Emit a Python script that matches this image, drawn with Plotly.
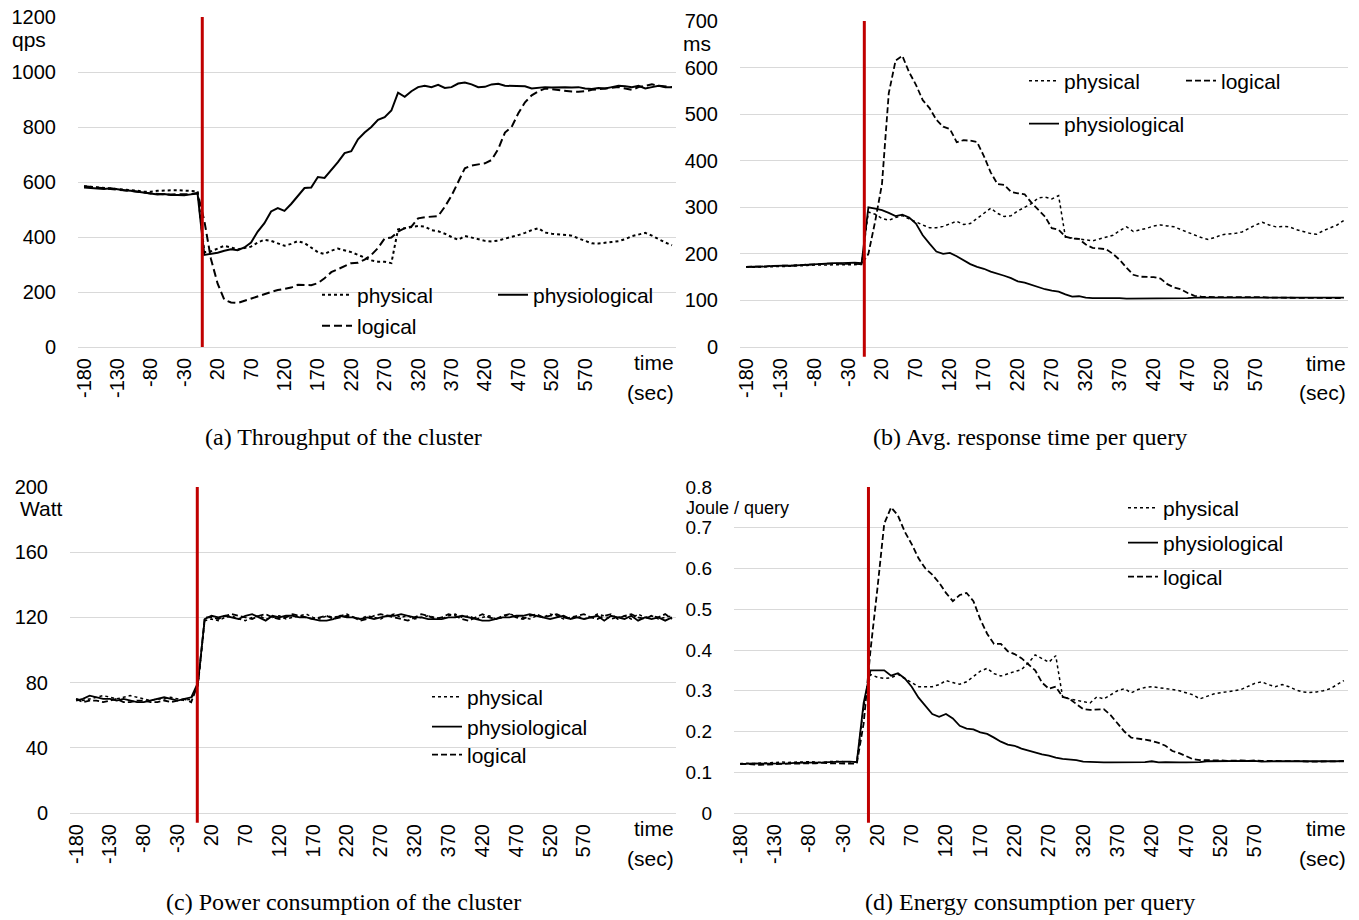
import plotly.graph_objects as go

W, H = 1359, 920
SANS = "Liberation Sans, Arial, sans-serif"
SERIF = "Liberation Serif, Times New Roman, serif"

# ---------------- data ----------------
time_sec = list(range(-180, 701, 10))
tick_vals = list(range(-180, 571, 50))
tick_text = [str(v) for v in tick_vals]

# (a) throughput, qps
thr_physical = [
    585, 583, 580, 578, 578, 575, 572, 570, 568, 565,
    565, 568, 570, 570, 570, 568, 567, 566, 345, 348,
    358, 368, 362, 355, 360, 365, 380, 390, 386, 378,
    368, 375, 385, 378, 362, 345, 338, 350, 358, 352,
    345, 335, 325, 315, 310, 310, 305, 428, 432, 436,
    440, 438, 425, 421, 412, 400, 390, 404, 398, 390,
    386, 384, 387, 394, 400, 407, 415, 425, 432, 416,
    412, 410, 408, 405, 395, 385, 377, 376, 380, 382,
    385, 392, 403, 410, 415, 405, 392, 380, 370]
thr_physiological = [
    580, 578, 577, 575, 577, 573, 570, 568, 565, 560,
    557, 555, 556, 553, 553, 552, 555, 558, 335, 338,
    343, 350, 355, 352, 362, 380, 420, 450, 493, 505,
    495, 520, 548, 578, 580, 618, 615, 642, 672, 705,
    712, 755, 780, 800, 826, 836, 860, 925, 910, 930,
    945, 950, 945, 953, 942, 945, 958, 962, 955, 945,
    946, 955, 957, 950, 950, 950, 948, 940, 943, 945,
    944, 945, 945, 944, 945, 940, 938, 942, 940, 945,
    950, 948, 945, 950, 940, 945, 950, 945, 945]
thr_logical = [
    585, 582, 580, 578, 575, 572, 570, 568, 566, 562,
    558, 556, 555, 555, 556, 555, 556, 560, 460, 320,
    230, 172, 162, 160, 168, 178, 185, 193, 200, 207,
    212, 216, 226, 225, 225, 232, 250, 272, 283, 292,
    305, 306, 318, 335, 360, 395, 398, 420, 432, 438,
    468, 472, 473, 476, 510, 550, 600, 650, 660, 663,
    668, 680, 720, 780, 800, 850, 890, 915, 930, 940,
    937, 933, 930, 929, 928, 930, 935, 938, 940, 943,
    945, 940, 935, 945, 950, 955, 950, 947, 945]

# (b) avg response time, ms
rt_physical = [
    172, 171, 172, 172, 173, 172, 173, 174, 174, 175,
    176, 176, 176, 177, 177, 176, 176, 177, 290, 285,
    276, 272, 278, 282, 275, 268, 262, 256, 256, 259,
    265, 270, 263, 265, 276, 288, 298, 287, 280, 282,
    292, 300, 308, 320, 322, 318, 325, 236, 234, 233,
    231, 228, 232, 236, 240, 250, 258, 248, 251, 255,
    260, 262, 260, 258, 252, 246, 240, 235, 231, 235,
    241, 242, 244, 247, 255, 262, 268, 262, 258, 259,
    258, 252, 248, 244, 242, 250, 256, 262, 272]
rt_physiological = [
    172, 172, 173, 173, 174, 174, 175, 175, 176, 177,
    178, 179, 180, 180, 180, 181, 181, 180, 300, 297,
    294, 288, 281, 284, 278, 265, 240, 222, 205, 200,
    202, 195, 186, 178, 172, 168, 162, 158, 153, 148,
    141, 138, 133, 129, 124, 121, 119, 113, 108, 109,
    106, 105, 105, 105, 106, 105, 104, 104, 104, 105,
    105, 105, 105, 105, 105, 105, 106, 106, 106, 106,
    106, 106, 106, 106, 106, 106, 106, 106, 106, 106,
    106, 106, 106, 106, 106, 106, 106, 105, 106]
rt_logical = [
    172, 172, 173, 173, 174, 174, 175, 175, 176, 177,
    178, 178, 179, 179, 179, 178, 178, 178, 200, 270,
    350, 545, 615, 625, 590, 563, 530, 513, 488, 473,
    468, 440, 444, 443, 440, 410, 375, 350, 348, 333,
    330, 328, 310, 295, 280, 255, 252, 237, 233, 232,
    220, 213, 212, 210, 200, 187, 170, 155, 151, 150,
    150, 147, 135, 128, 124, 116, 110, 108, 107, 107,
    107, 107, 108, 107, 107, 107, 107, 106, 106, 106,
    106, 106, 106, 105, 106, 105, 105, 105, 105]

# (c) power consumption, Watt
pw_physical = [
    70, 69, 70, 71, 72, 71, 70, 71, 72, 71,
    70, 69, 70, 70, 71, 70, 69, 70, 78, 118,
    119, 118, 120, 121, 119, 118, 120, 121, 119, 120,
    121, 119, 120, 121, 122, 120, 119, 121, 120, 121,
    122, 120, 119, 121, 120, 119, 121, 122, 120, 121,
    119, 120, 121, 120, 119, 121, 122, 120, 121, 119,
    120, 121, 119, 120, 122, 121, 120, 119, 121, 120,
    122, 121, 119, 120, 121, 119, 120, 122, 121, 119,
    120, 121, 119, 122, 120, 121, 119, 120, 121]
pw_physiological = [
    69, 70, 72, 71, 70, 70, 69, 70, 69, 68,
    68, 69, 70, 71, 70, 69, 70, 71, 80, 119,
    121, 120, 121, 120, 119, 121, 122, 120, 118, 121,
    120, 121, 121, 120, 120, 119, 118, 118, 119, 121,
    120, 120, 119, 120, 119, 120, 121, 121, 122, 121,
    120, 120, 119, 119, 119, 120, 120, 121, 120, 119,
    118, 118, 119, 120, 120, 121, 121, 122, 121, 120,
    119, 120, 121, 119, 120, 119, 120, 121, 118, 121,
    120, 119, 121, 118, 120, 119, 120, 118, 120]
pw_logical = [
    70, 68, 69, 69, 68, 69, 70, 68, 68, 69,
    69, 68, 68, 69, 68, 69, 70, 68, 79, 120,
    120, 119, 121, 122, 121, 120, 119, 121, 122, 120,
    119, 120, 122, 121, 120, 119, 120, 121, 119, 120,
    121, 120, 118, 119, 121, 122, 121, 120, 119, 118,
    120, 122, 121, 119, 120, 122, 121, 119, 118, 120,
    122, 120, 119, 121, 122, 120, 119, 121, 122, 120,
    121, 122, 120, 119, 121, 122, 120, 119, 121, 122,
    119, 121, 122, 120, 119, 121, 120, 122, 119]

# (d) energy per query, Joule / query
en_physical = [
    0.121, 0.122, 0.121, 0.123, 0.123, 0.124, 0.125, 0.124, 0.125, 0.126,
    0.126, 0.125, 0.124, 0.126, 0.127, 0.126, 0.126, 0.125, 0.26, 0.34,
    0.333, 0.33, 0.332, 0.34, 0.33, 0.32, 0.31, 0.31, 0.31, 0.315,
    0.325, 0.32, 0.316, 0.322, 0.335, 0.348, 0.355, 0.342, 0.336, 0.342,
    0.347, 0.352, 0.368, 0.388, 0.378, 0.37, 0.386, 0.285, 0.28, 0.277,
    0.274, 0.27, 0.285, 0.28, 0.29, 0.3, 0.305, 0.295, 0.303, 0.308,
    0.31, 0.308, 0.306, 0.303, 0.3, 0.295, 0.29, 0.28, 0.287, 0.292,
    0.295, 0.297, 0.3, 0.303, 0.31, 0.318, 0.322, 0.315, 0.31, 0.315,
    0.31, 0.302, 0.297, 0.296, 0.297, 0.3, 0.305, 0.315, 0.325]
en_physiological = [
    0.120, 0.121, 0.122, 0.121, 0.121, 0.122, 0.122, 0.122, 0.123, 0.123,
    0.123, 0.123, 0.124, 0.125, 0.126, 0.126, 0.126, 0.125, 0.27, 0.35,
    0.35, 0.35, 0.337, 0.343, 0.33, 0.31, 0.283, 0.262, 0.243, 0.236,
    0.243, 0.232, 0.214, 0.207, 0.205, 0.198, 0.194, 0.185, 0.175, 0.168,
    0.165, 0.158, 0.153, 0.148, 0.144, 0.141, 0.136, 0.133, 0.132, 0.13,
    0.126, 0.125, 0.124, 0.124, 0.124, 0.124, 0.124, 0.124, 0.125, 0.125,
    0.127, 0.124, 0.125, 0.124, 0.124, 0.124, 0.124, 0.125, 0.127, 0.127,
    0.127, 0.127, 0.128, 0.128, 0.127, 0.128, 0.126, 0.127, 0.127, 0.127,
    0.127, 0.126, 0.127, 0.126, 0.126, 0.126, 0.126, 0.127, 0.128]
en_logical = [
    0.121, 0.120, 0.119, 0.118, 0.119, 0.120, 0.120, 0.121, 0.121, 0.122,
    0.122, 0.122, 0.123, 0.122, 0.122, 0.122, 0.121, 0.121, 0.22, 0.40,
    0.55, 0.71, 0.75, 0.73, 0.69, 0.66, 0.625, 0.60, 0.585, 0.565,
    0.54, 0.52, 0.535, 0.54, 0.52, 0.475, 0.44, 0.415, 0.415, 0.397,
    0.39, 0.38, 0.365, 0.35, 0.32, 0.305, 0.31, 0.285, 0.28, 0.268,
    0.255, 0.253, 0.254, 0.255, 0.24, 0.22, 0.2, 0.185, 0.183, 0.18,
    0.177, 0.172, 0.165, 0.152, 0.147, 0.14, 0.132, 0.13, 0.13, 0.129,
    0.129, 0.128, 0.129, 0.129, 0.128, 0.129, 0.128, 0.128, 0.128, 0.127,
    0.128, 0.127, 0.127, 0.126, 0.126, 0.127, 0.126, 0.126, 0.127]

series_names = ["physical", "physiological", "logical"]
panel_series = [
    [thr_physical, thr_physiological, thr_logical],
    [rt_physical, rt_physiological, rt_logical],
    [pw_physical, pw_physiological, pw_logical],
    [en_physical, en_physiological, en_logical],
]
y_ranges = [[0, 1200], [0, 700], [0, 200], [0, 0.8]]
y_dticks = [200, 100, 40, 0.1]
y_units = ["qps", "ms", "Watt", "Joule / query"]
captions = ["(a) Throughput of the cluster", "(b) Avg. response time per query",
            "(c) Power consumption of the cluster", "(d) Energy consumption per query"]
event_time = [-3, -6, -1, 7]

# ---------------- layout helpers (pixel geometry) ----------------
plot_px = [  # x0, x1, ytop, ybottom
    (78, 676, 17, 347),
    (740, 1348, 21, 347),
    (70, 676, 487, 813),
    (734, 1348, 487, 813),
]
legend_px = [  # text-start x, center y for physical, physiological, logical
    [(359, 295), (535, 295), (359, 326)],
    [(1066, 81), (1066, 124), (1223, 81)],
    [(469, 697), (469, 727), (469, 755)],
    [(1165, 508), (1165, 543), (1165, 577)],
]
line_styles = [
    dict(dash="dot", width=2),
    dict(dash="solid", width=2),
    dict(dash="8px,4px", width=2),
]
thin_styles = [
    dict(dash="dot", width=1.5),
    dict(dash="solid", width=1.8),
    dict(dash="6px,3px", width=1.8),
]

fig = go.Figure()
layout = dict(
    width=W, height=H, margin=dict(l=0, r=0, t=0, b=0, autoexpand=False),
    paper_bgcolor="white", plot_bgcolor="white",
    showlegend=True, shapes=[], annotations=[],
)

def px2x(p):
    return p / W

def px2y(p):
    return 1 - p / H

leg_idx = 0
for p in range(4):
    x0, x1, yt, yb = plot_px[p]
    sfx = "" if p == 0 else str(p + 1)
    layout["xaxis" + sfx] = dict(
        domain=[px2x(x0), px2x(x1)], range=[-189, 706], anchor="y" + sfx,
        tickmode="array", tickvals=tick_vals, ticktext=tick_text, tickangle=-90,
        showgrid=False, zeroline=False, showline=False, ticks="",
        ticklabelstandoff=6, automargin=False,
        tickfont=dict(family=SANS, size=20, color="#000"),
    )
    layout["yaxis" + sfx] = dict(
        domain=[px2y(yb), px2y(yt)], range=y_ranges[p], anchor="x" + sfx,
        dtick=y_dticks[p], tick0=0, showgrid=True, gridcolor="#D9D9D9", gridwidth=1,
        zeroline=True, zerolinecolor="#D9D9D9", zerolinewidth=1, showline=False,
        ticks="", ticklabelstandoff=21, automargin=False,
        tickfont=dict(family=SANS, size=(19 if p == 3 else 20), color="#000"),
    )
    styles = thin_styles if p >= 1 else line_styles
    for s in range(3):
        leg_idx += 1
        lname = "legend" if leg_idx == 1 else "legend%d" % leg_idx
        fig.add_trace(go.Scatter(
            x=time_sec, y=panel_series[p][s], mode="lines", name=series_names[s],
            line=dict(color="#000", **styles[s]),
            xaxis="x" + sfx, yaxis="y" + sfx, legend=lname, hoverinfo="skip",
        ))
        tx, ty = legend_px[p][s]
        layout[lname] = dict(
            x=px2x(tx - 42), y=px2y(ty), xanchor="left", yanchor="middle",
            bgcolor="rgba(0,0,0,0)", borderwidth=0, itemwidth=30,
            font=dict(family=SANS, size=21, color="#000"),
        )
    # event marker
    layout["shapes"].append(dict(
        type="line", xref="x" + sfx, yref="y" + sfx + " domain",
        x0=event_time[p], x1=event_time[p], y0=(0 if p == 0 else -0.03), y1=1,
        line=dict(color="#C00000", width=3),
    ))
    # unit label
    unit_pos = [(29, 40, "center", 21), (697, 43, "center", 21),
                (41, 508, "center", 21), (685, 508, "left", 18)][p]
    layout["annotations"].append(dict(
        text=y_units[p], xref="paper", yref="paper", x=px2x(unit_pos[0]), y=px2y(unit_pos[1]),
        xanchor=unit_pos[2], yanchor="middle", showarrow=False, borderpad=0,
        font=dict(family=SANS, size=unit_pos[3], color="#000"),
    ))
    # time (sec)
    time_y = [(362, 392), (364, 393), (828, 858), (828, 858)][p]
    for txt, ty in zip(["time", "(sec)"], time_y):
        layout["annotations"].append(dict(
            text=txt, xref="paper", yref="paper", x=px2x(x1), y=px2y(ty),
            xanchor="right", yanchor="middle", showarrow=False,
            font=dict(family=SANS, size=21, color="#000"),
        ))
    # caption
    cap_pos = [(344, 437), (1030, 437), (344, 902), (1030, 902)][p]
    layout["annotations"].append(dict(
        text=captions[p], xref="paper", yref="paper", x=px2x(cap_pos[0]), y=px2y(cap_pos[1]),
        xanchor="center", yanchor="middle", showarrow=False,
        font=dict(family=SERIF, size=24, color="#000"),
    ))

fig.update_layout(**layout)
fig.write_html("out.html")
